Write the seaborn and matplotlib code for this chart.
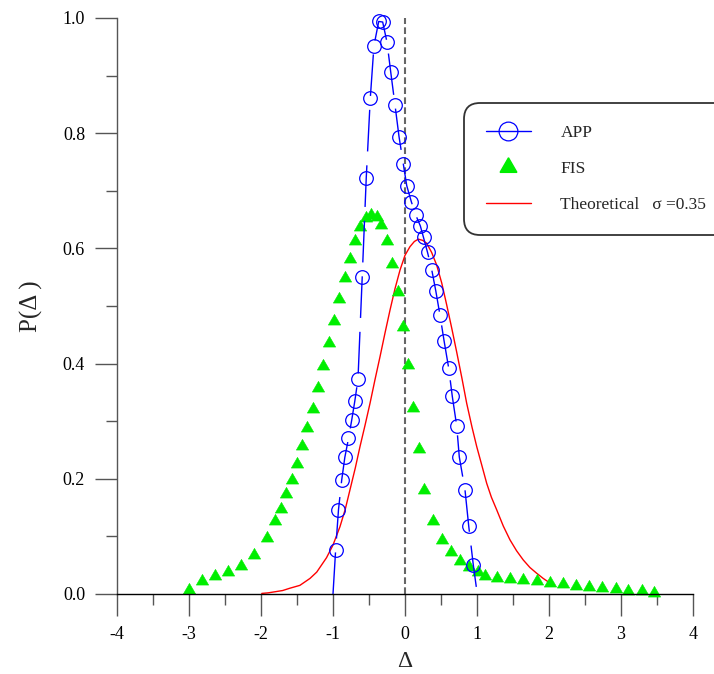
import matplotlib
matplotlib.use("Agg")
import matplotlib.pyplot as plt
import seaborn as sns
from matplotlib.lines import Line2D
from matplotlib.ticker import MultipleLocator

# APP measurements (circles joined by a long-dash line)
app_delta = [-0.963, -0.924, -0.879, -0.836, -0.785, -0.740, -0.697, -0.653,
             -0.594, -0.538, -0.482, -0.431, -0.365, -0.310, -0.250, -0.199,
             -0.139, -0.083, -0.024, 0.024, 0.088, 0.149, 0.213, 0.257,
             0.313, 0.372, 0.428, 0.486, 0.542, 0.607, 0.657, 0.718,
             0.754, 0.833, 0.885, 0.949]
app_prob = [0.077, 0.146, 0.198, 0.237, 0.270, 0.302, 0.335, 0.373,
            0.551, 0.723, 0.861, 0.952, 0.994, 0.993, 0.958, 0.907,
            0.849, 0.794, 0.747, 0.709, 0.681, 0.658, 0.639, 0.619,
            0.593, 0.5625, 0.526, 0.484, 0.440, 0.392, 0.343, 0.292,
            0.238, 0.181, 0.118, 0.050]
# ends of the APP line beyond the first and last circle
app_line_head_delta = [-1.0]
app_line_head_prob = [0.0]
app_line_tail_delta = [0.996, 1.042]
app_line_tail_prob = [0.007, 0.007]

# FIS measurements (filled triangles)
fis_delta = [-3.000, -2.824, -2.639, -2.463, -2.282, -2.097, -1.921, -1.806,
             -1.726, -1.657, -1.576, -1.504, -1.431, -1.357, -1.282, -1.208,
             -1.135, -1.060, -0.986, -0.913, -0.840, -0.764, -0.692, -0.621,
             -0.546, -0.476, -0.393, -0.333, -0.254, -0.176, -0.097, -0.032,
             0.046, 0.115, 0.194, 0.264, 0.382, 0.510, 0.636, 0.764,
             0.886, 1.010, 1.106, 1.274, 1.458, 1.643, 1.829, 2.014,
             2.190, 2.375, 2.560, 2.740, 2.926, 3.101, 3.288, 3.463]
fis_prob = [0.007, 0.023, 0.031, 0.038, 0.049, 0.067, 0.097, 0.126,
            0.148, 0.173, 0.198, 0.226, 0.257, 0.289, 0.322, 0.358,
            0.396, 0.435, 0.474, 0.512, 0.548, 0.581, 0.612, 0.638,
            0.653, 0.658, 0.655, 0.641, 0.612, 0.573, 0.524, 0.464,
            0.397, 0.323, 0.251, 0.181, 0.127, 0.094, 0.073, 0.058,
            0.047, 0.039, 0.031, 0.027, 0.026, 0.024, 0.022, 0.019,
            0.017, 0.014, 0.013, 0.010, 0.008, 0.006, 0.005, 0.002]

# Theoretical distribution, sigma = 0.35
sigma = 0.35
theory_delta = [-1.990, -1.900, -1.800, -1.700, -1.600, -1.460, -1.320, -1.226,
                -1.090, -1.000, -0.903, -0.830, -0.764, -0.690, -0.625, -0.555,
                -0.486, -0.417, -0.347, -0.278, -0.208, -0.139, -0.069, 0.000,
                0.069, 0.130, 0.185, 0.245, 0.301, 0.370, 0.440, 0.510,
                0.579, 0.650, 0.718, 0.790, 0.857, 0.930, 0.996, 1.070,
                1.135, 1.200, 1.274, 1.365, 1.458, 1.550, 1.643, 1.735,
                1.829, 1.920, 2.014]
theory_prob = [0.001, 0.002, 0.004, 0.006, 0.010, 0.015, 0.027, 0.038,
               0.063, 0.085, 0.117, 0.147, 0.181, 0.219, 0.256, 0.293,
               0.331, 0.372, 0.412, 0.453, 0.493, 0.530, 0.5625, 0.588,
               0.603, 0.612, 0.616, 0.614, 0.609, 0.593, 0.571, 0.540,
               0.502, 0.461, 0.420, 0.375, 0.331, 0.290, 0.256, 0.222,
               0.192, 0.168, 0.146, 0.118, 0.094, 0.075, 0.059, 0.046,
               0.036, 0.027, 0.019]

x_ticks = [-4, -3, -2, -1, 0, 1, 2, 3, 4]
y_ticks = [0.0, 0.2, 0.4, 0.6, 0.8, 1.0]
y_tick_labels = ["0.0", "0.2", "0.4", "0.6", "0.8", "1.0"]

sns.set_theme(style="ticks")
plt.rcParams["font.family"] = ["Liberation Serif", "DejaVu Serif"]

fig = plt.figure(figsize=(7.14, 6.74), dpi=100)
ax = fig.add_axes([117 / 714, 80 / 674, 576 / 714, 576 / 674])

# zero reference
ax.axvline(0, ymin=0, ymax=1, color="#666666", lw=1.5,
           ls=(0, (3.2, 1.6)), zorder=1)

# theoretical curve
sns.lineplot(x=theory_delta, y=theory_prob, ax=ax, color="#ff0000", lw=1.0,
             estimator=None, sort=False, zorder=2)

# FIS triangles
sns.scatterplot(x=fis_delta, y=fis_prob, ax=ax, marker=(3, 0, 0), s=105,
                color="#00ee00", edgecolor="#00ee00", linewidth=0.4, zorder=3,
                clip_on=False)

# APP line with circles
line_x = app_line_head_delta + app_delta + app_line_tail_delta
line_y = app_line_head_prob + app_prob + app_line_tail_prob
sns.lineplot(x=line_x, y=line_y, ax=ax, color="#0000ff", lw=1.0,
             estimator=None, sort=False, ls=(0, (30, 10)),
             marker="o", markevery=list(range(1, len(app_delta) + 1)),
             mfc="none", mec="#0000ff", ms=9.8, mew=0.9, zorder=4,
             clip_on=False)

ax.set_xlim(-4, 4)
ax.set_ylim(0, 1)
ax.set_xticks(x_ticks)
ax.set_xticklabels([str(t) for t in x_ticks])
ax.set_yticks(y_ticks)
ax.set_yticklabels(y_tick_labels)
ax.xaxis.set_minor_locator(MultipleLocator(0.5))
ax.yaxis.set_minor_locator(MultipleLocator(0.1))
ax.tick_params(axis="both", which="major", length=16, width=1.0,
               color="#555555", labelsize=13, labelcolor="black", pad=7)
ax.tick_params(axis="both", which="minor", length=8, width=1.0,
               color="#555555")
sns.despine(ax=ax)
ax.spines["left"].set_color("#555555")
ax.spines["bottom"].set_color("black")
ax.spines["left"].set_linewidth(1.0)
ax.spines["bottom"].set_linewidth(1.0)
for sp in ax.spines.values():
    sp.set_zorder(5)

ax.set_xlabel("Δ", fontsize=17, labelpad=6)
ax.set_ylabel("P(Δ )", fontsize=18, labelpad=14)

handles = [
    Line2D([], [], color="#0000ff", lw=1.0, marker="o", mfc="none",
           mec="#0000ff", ms=13.5, mew=0.9),
    Line2D([], [], ls="none", marker=(3, 0, 0), color="#00ee00", ms=14),
    Line2D([], [], color="#ff0000", lw=1.0),
]
labels = ["APP", "FIS", "Theoretical   σ =0.35"]
leg = fig.legend(handles, labels, loc="upper left",
                 bbox_to_anchor=(464 / 714, 1 - 103 / 674, 300 / 714, 0),
                 mode="expand", borderaxespad=0, fontsize=12.5,
                 handlelength=2.6, handletextpad=1.7, labelspacing=1.15,
                 borderpad=1.25, fancybox=True, frameon=True, numpoints=1)
frame = leg.get_frame()
frame.set_edgecolor("#333333")
frame.set_linewidth(1.3)
frame.set_facecolor("white")
frame.set_alpha(1.0)
frame.set_boxstyle("round", pad=0, rounding_size=0.9)

fig.savefig("out.png", dpi=100)
